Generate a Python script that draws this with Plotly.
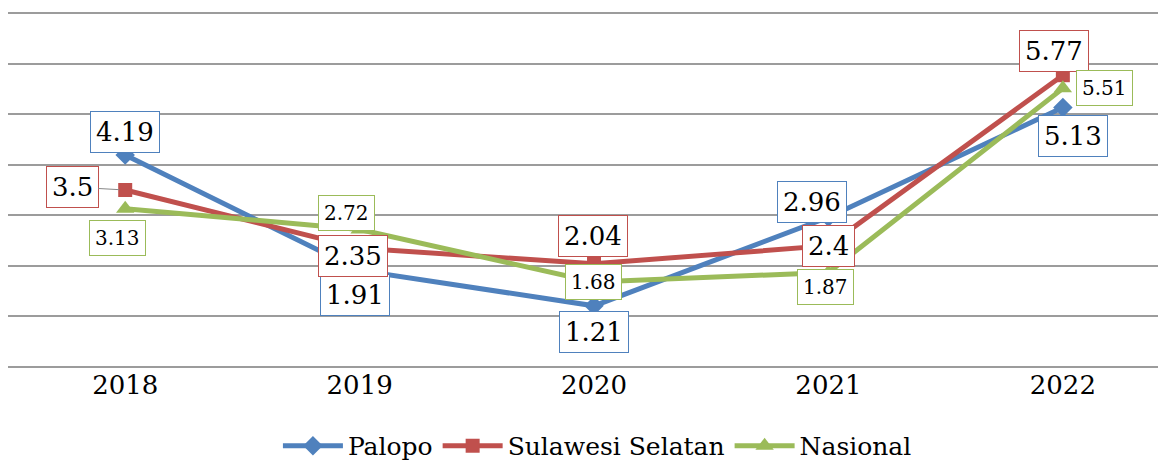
import plotly.graph_objects as go

years = ["2018", "2019", "2020", "2021", "2022"]
palopo = [4.19, 1.91, 1.21, 2.96, 5.13]
sulsel = [3.5, 2.35, 2.04, 2.4, 5.77]
nasional = [3.13, 2.72, 1.68, 1.87, 5.51]

idx = list(range(len(years)))

series = [
    ("Palopo", palopo, "#4F81BD", "diamond", 15, [(0, 23), (-5, -25), (0, -26), (-16, 15), (10, -28)], 26),
    ("Sulawesi Selatan", sulsel, "#C0504D", "square", 14, [(-53, 3), (-7, -8), (-1, 28), (0, 0), (-9, 24)], 26),
    ("Nasional", nasional, "#9BBB59", "triangle-up", 16, [(-8, -29), (-13, 16), (-1, 0), (-3, -15), (42, 0)], 20),
]

FONT = "DejaVu Serif"
fig = go.Figure()
for name, vals, color, sym, msize, offs, fsize in series:
    fig.add_trace(go.Scatter(
        x=idx, y=vals, name=name, mode="lines+markers",
        line=dict(color=color, width=5),
        marker=dict(symbol=sym, size=msize, color=color),
    ))

for name, vals, color, sym, msize, offs, fsize in series:
    for i, (v, (dx, dy)) in enumerate(zip(vals, offs)):
        lab = str(v)
        if name == "Sulawesi Selatan" and i == 0:
            fig.add_annotation(
                x=i, y=v, xref="x", yref="y", text=lab, showarrow=True, arrowhead=0,
                arrowwidth=1, arrowcolor="#888888", ax=dx, ay=-dy, standoff=6,
                font=dict(family=FONT, size=fsize, color="black"),
                bgcolor="white", bordercolor=color, borderwidth=1, borderpad=5,
            )
        else:
            fig.add_annotation(
                x=i, y=v, xref="x", yref="y", text=lab, showarrow=False,
                xshift=dx, yshift=dy,
                font=dict(family=FONT, size=fsize, color="black"),
                bgcolor="white", bordercolor=color, borderwidth=1, borderpad=5,
            )

fig.update_layout(
    width=1158, height=452,
    margin=dict(l=0, r=0, t=4, b=93, autoexpand=False),
    paper_bgcolor="white", plot_bgcolor="white",
    font=dict(family=FONT, size=26, color="black"),
    showlegend=True,
    legend=dict(orientation="h", x=0.509, xanchor="center", y=-0.2225, yanchor="middle",
                font=dict(family=FONT, size=25), itemwidth=60),
    xaxis=dict(range=[-0.5, 4.44], tickvals=idx, ticktext=years, showgrid=False,
               zeroline=False, showline=False, ticks="",
               tickfont=dict(family=FONT, size=26)),
    yaxis=dict(range=[0, 7.02], tickvals=[0, 1, 2, 3, 4, 5, 6, 7], showgrid=True,
               gridcolor="#9C9C9C", gridwidth=1.5,
               showticklabels=False, zeroline=True, zerolinecolor="#9C9C9C", zerolinewidth=1.5,
               ticks=""),
)

fig.write_html("out.html")
